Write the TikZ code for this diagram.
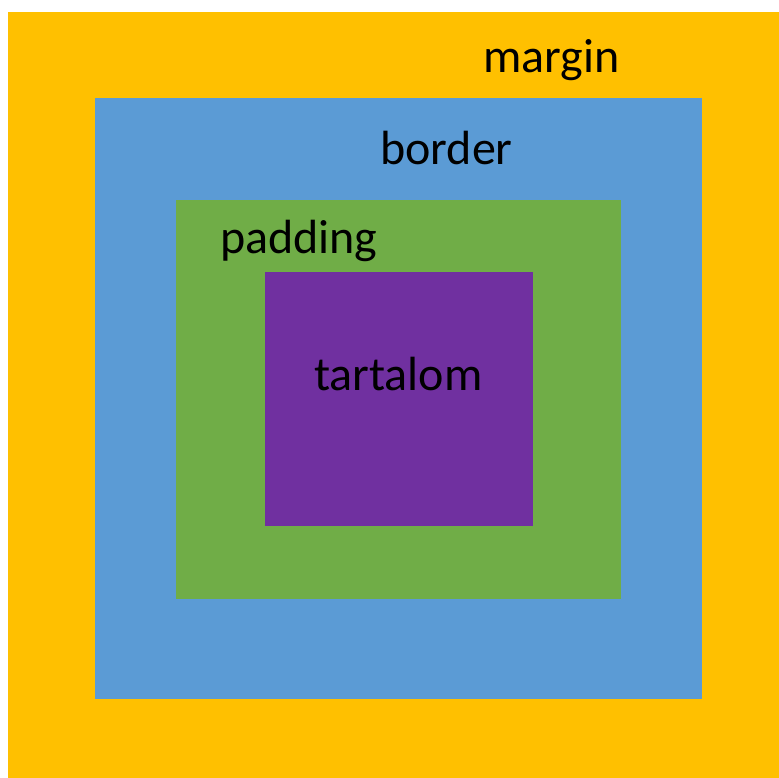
\documentclass[tikz,border=0pt]{standalone}
\usepackage{fontspec}
\setmainfont{Carlito}
\usepackage{tikz}
\usepackage{xcolor}
\definecolor{marginc}{HTML}{FFC000}
\definecolor{borderc}{HTML}{5B9BD5}
\definecolor{paddingc}{HTML}{70AD47}
\definecolor{contentc}{HTML}{7030A0}
\begin{document}
\begin{tikzpicture}[x=1pt, y=-1pt, boxlabel/.style={anchor=base west, inner sep=0pt, font=\fontsize{48}{52}\selectfont}]
    \useasboundingbox (0,0) rectangle (779,778);
    \fill[color=marginc] (8,12) rectangle (779,778);
    \fill[color=borderc] (95,98) rectangle (702,699);
    \fill[color=paddingc] (176,200) rectangle (621,599);
    \fill[color=contentc] (265,272) rectangle (533,526);
	\node[boxlabel] (margin) at (483,73) {margin};
	\node[boxlabel] (border) at (380,165) {border};
	\node[boxlabel] (padding) at (220,253) {padding};
	\node[boxlabel] (tartalom) at (314,390) {tartalom};
\end{tikzpicture}
\end{document}
